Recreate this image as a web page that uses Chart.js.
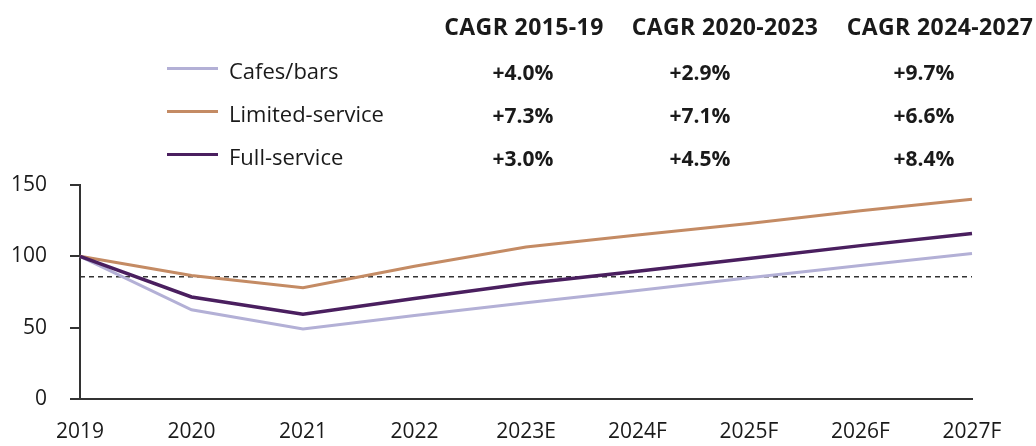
<!DOCTYPE html>
<html lang="en">

<head>
    <meta charset="UTF-8">
    <script src="https://cdn.jsdelivr.net/npm/chart.js@4/dist/chart.umd.min.js"></script>
    <title>Restaurant sales index</title>
    <style>
        body { margin: 0; background: #fff; font-family: "Open Sans", sans-serif; color: #1a1a1a; }
        .wrap { position: relative; width: 1036px; height: 446px; }
        .txt { position: absolute; white-space: nowrap; line-height: 1; transform: translate(-50%, -50%); font-weight: 700; }
        .head { font-size: 23px; letter-spacing: 0.4px; }
        .val { font-size: 21px; }
        .leg { position: absolute; white-space: nowrap; line-height: 1; font-size: 22px; transform: translateY(-50%); }
        .swatch { position: absolute; width: 51px; height: 3px; }
    </style>
</head>

<body>
    <div class="wrap">
        <canvas id="chart" width="1036" height="446"></canvas>
        <div id="table"></div>
    </div>
</body>

</html>
<script>
    // dados
    var years = ["2019", "2020", "2021", "2022", "2023E", "2024F", "2025F", "2026F", "2027F"];
    var seriesNames = ["Cafes/bars", "Limited-service", "Full-service"];
    var cafes = [100, 62.5, 49, 58.5, 67.5, 76, 85, 93.5, 102];
    var limited = [100, 86.5, 78, 93, 106.5, 115, 123, 132, 140];
    var full = [100, 71.5, 59.5, 70.5, 81, 89.5, 98.5, 107.5, 116];
    var refLevel = 85.7; // linha tracejada
    var yTicks = [0, 50, 100, 150];

    var cagrHeaders = ["CAGR 2015-19", "CAGR 2020-2023", "CAGR 2024-2027"];
    var cagrCafes = ["+4.0%", "+2.9%", "+9.7%"];
    var cagrLimited = ["+7.3%", "+7.1%", "+6.6%"];
    var cagrFull = ["+3.0%", "+4.5%", "+8.4%"];

    var colors = ["#b3b0d6", "#c48b64", "#4a1f5f"];

    // tabela de CAGR + legenda (texto html por cima do canvas)
    var headerX = [524, 725, 940];
    var valueX = [523, 700, 924];
    var rowY = [70, 113, 156];
    var html = "";
    cagrHeaders.forEach(function (h, i) {
        html += '<div class="txt head" style="left:' + headerX[i] + 'px;top:26px">' + h + '</div>';
    });
    [cagrCafes, cagrLimited, cagrFull].forEach(function (row, r) {
        html += '<div class="swatch" style="left:167px;top:' + (rowY[r] - 3) + 'px;background:' + colors[r] + '"></div>';
        html += '<div class="leg" style="left:229px;top:' + rowY[r] + 'px">' + seriesNames[r] + '</div>';
        row.forEach(function (v, c) {
            html += '<div class="txt val" style="left:' + valueX[c] + 'px;top:' + (rowY[r] + 2) + 'px">' + v + '</div>';
        });
    });
    document.getElementById("table").innerHTML = html;

    var ctx = document.getElementById("chart").getContext("2d");

    new Chart(ctx, {
        type: "line",
        data: {
            labels: years,
            datasets: [
                { label: seriesNames[0], data: cafes, borderColor: colors[0], borderWidth: 3, order: 3 },
                { label: seriesNames[1], data: limited, borderColor: colors[1], borderWidth: 3, order: 2 },
                { label: seriesNames[2], data: full, borderColor: colors[2], borderWidth: 3.5, order: 1 },
                {
                    label: "ref", data: years.map(function () { return refLevel; }),
                    borderColor: "#333", borderWidth: 1.5, borderDash: [5, 4], order: 10
                }
            ]
        },
        options: {
            responsive: false,
            animation: false,
            layout: { padding: { top: 185, right: 64, left: 0, bottom: 0 } },
            elements: { point: { radius: 0 }, line: { tension: 0 } },
            plugins: { legend: { display: false }, tooltip: { enabled: false } },
            scales: {
                x: {
                    offset: false,
                    grid: { display: true, drawOnChartArea: false, drawTicks: false },
                    border: { display: true, color: "#333", width: 2 },
                    ticks: { color: "#1a1a1a", font: { family: "Open Sans", size: 21 }, padding: 20, maxRotation: 0, autoSkip: false },
                    afterFit: function (s) { s.height = 47; }
                },
                y: {
                    min: 0,
                    max: 150,
                    afterBuildTicks: function (s) { s.ticks = yTicks.map(function (v) { return { value: v }; }); },
                    grid: { display: true, drawOnChartArea: false, drawTicks: true, tickLength: 10, color: "#333", lineWidth: 2 },
                    border: { display: true, color: "#333", width: 2 },
                    ticks: { color: "#1a1a1a", font: { family: "Open Sans", size: 21 }, padding: 23 },
                    afterFit: function (s) { s.width = 80; }
                }
            }
        }
    });
</script>
